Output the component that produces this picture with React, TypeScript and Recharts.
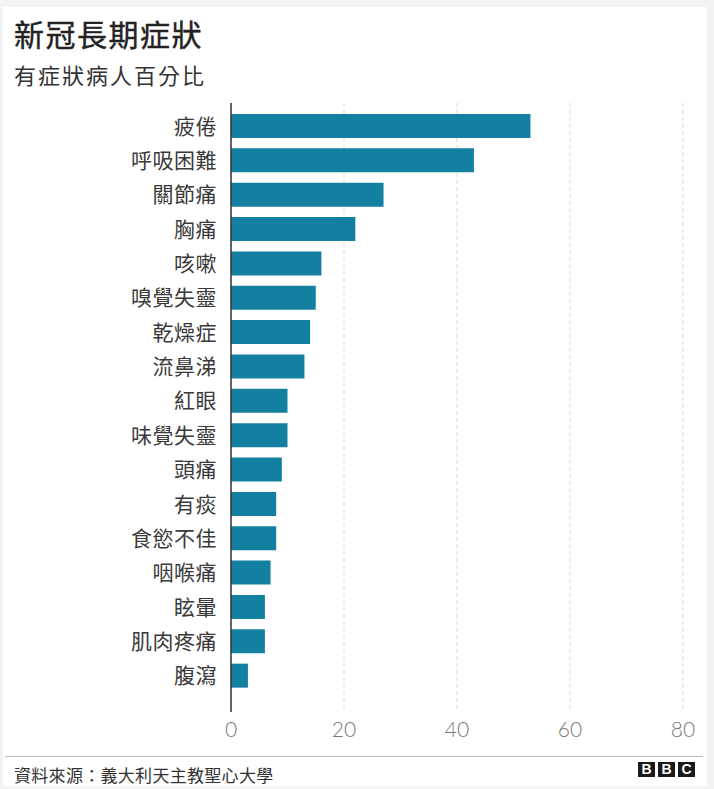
import React from "react";
import { BarChart, Bar, XAxis, YAxis, CartesianGrid } from "recharts";

const categories = [
  "疲倦", "呼吸困難", "關節痛", "胸痛", "咳嗽", "嗅覺失靈", "乾燥症", "流鼻涕",
  "紅眼", "味覺失靈", "頭痛", "有痰", "食慾不佳", "咽喉痛", "眩暈", "肌肉疼痛", "腹瀉",
];
const values = [53, 43, 27, 22, 16, 15, 14, 13, 10, 10, 9, 8, 8, 7, 6, 6, 3];
const xTicks = [0, 20, 40, 60, 80];

const title = "新冠長期症狀";
const subtitle = "有症狀病人百分比";
const source = "資料來源：義大利天主教聖心大學";

const data = categories.map((name, i) => ({ name, value: values[i] }));

const CJK = '"Noto Sans CJK TC", "Noto Sans CJK SC", sans-serif';

export default function App() {
  return (
    <div style={{ position: "absolute", left: 0, top: 0, width: 714, height: 789, background: "#f3f3f3", overflow: "hidden" }}>
      <div style={{ position: "absolute", left: 3, top: 7, width: 704, height: 779, background: "#ffffff" }} />
      <div style={{ position: "absolute", left: 14, top: 18, fontFamily: CJK, fontSize: 30, lineHeight: "30px", fontWeight: 400, color: "#222", letterSpacing: 1.5, whiteSpace: "nowrap", WebkitTextStroke: "0.4px #222" }}>
        {title}
      </div>
      <div style={{ position: "absolute", left: 14, top: 62.5, fontFamily: CJK, fontSize: 22, lineHeight: "22px", color: "#333", letterSpacing: 2, whiteSpace: "nowrap" }}>
        {subtitle}
      </div>
      <div style={{ position: "absolute", left: 0, top: 0 }}>
        <BarChart
          width={714}
          height={789}
          data={data}
          layout="vertical"
          margin={{ top: 103, right: 31, bottom: 47, left: 0 }}
        >
          <CartesianGrid horizontal={false} vertical stroke="#d9d9d9" strokeDasharray="4 3" />
          <XAxis
            type="number"
            domain={[0, 80]}
            ticks={xTicks}
            axisLine={false}
            tickLine={false}
            tickSize={0}
            tickMargin={10}
            height={30}
            interval={0}
            tick={{ fill: "#7a7a7a", fontSize: 21, fontFamily: "Lato, 'Noto Sans', sans-serif", fontWeight: 300 }}
          />
          <YAxis
            type="category"
            dataKey="name"
            width={231}
            interval={0}
            tickLine={false}
            tickSize={0}
            tickMargin={14}
            axisLine={{ stroke: "#333", strokeWidth: 1.5 }}
            padding={{ top: 6, bottom: 19 }}
            tick={{ fill: "#3a3a3a", fontSize: 21, fontFamily: CJK, letterSpacing: 0.5 }}
          />
          <Bar dataKey="value" fill="#1380A1" barSize={24} isAnimationActive={false} />
        </BarChart>
      </div>
      <div style={{ position: "absolute", left: 5, top: 755.5, width: 698, height: 1.5, background: "#b8b8b8" }} />
      <div style={{ position: "absolute", left: 14, top: 765.5, fontFamily: CJK, fontSize: 17, lineHeight: "17px", color: "#333", letterSpacing: 0.3, whiteSpace: "nowrap" }}>
        {source}
      </div>
      <div style={{ position: "absolute", left: 638, top: 762, display: "flex", gap: 3 }}>
        {["B", "B", "C"].map((l, i) => (
          <div key={i} style={{ width: 17, height: 15, background: "#1a1a1a", color: "#fff", fontFamily: "'Liberation Sans', Arial, sans-serif", fontWeight: 700, fontSize: 14, lineHeight: "15px", textAlign: "center" }}>
            {l}
          </div>
        ))}
      </div>
    </div>
  );
}
